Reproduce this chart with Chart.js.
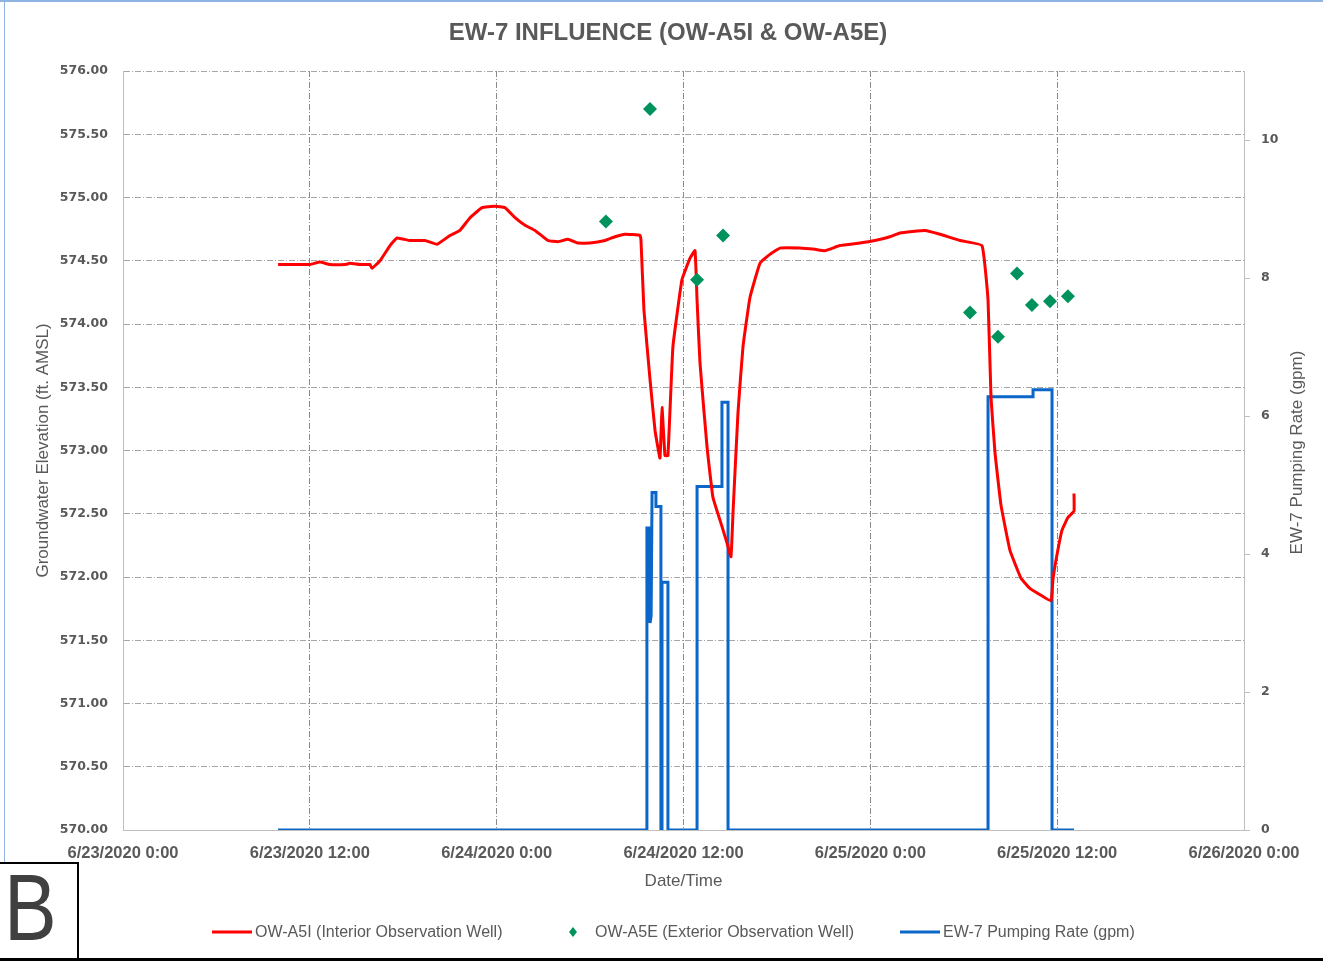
<!DOCTYPE html>
<html>
<head>
<meta charset="utf-8">
<title>EW-7 Influence (OW-A5I &amp; OW-A5E)</title>
<script src="https://cdn.jsdelivr.net/npm/chart.js@4/dist/chart.umd.min.js"></script>
<style>
  html, body { margin: 0; padding: 0; background: #ffffff; }
  #wrap { position: relative; width: 1323px; height: 961px; overflow: hidden; }
  #chart { position: absolute; left: 0; top: 0; }
  .edge { position: absolute; }
  #topEdge { left: 0; top: 0; width: 1323px; height: 2px; background: #8fb4e3; }
  #leftEdge { left: 4px; top: 0; width: 1px; height: 862px; background: #8fb4e3; }
  #bottomEdge { left: 0; top: 958px; width: 1323px; height: 3px; background: #000000; }
  #panel { position: absolute; left: 0; top: 862px; width: 77px; height: 94px; border: 2px solid #000; border-left: none;
           overflow: hidden; }
  #panel span { position: absolute; left: 4px; top: -6px; font-family: "Liberation Sans", sans-serif; font-size: 94px;
                line-height: 100px; color: #404040; transform: scaleX(0.84); transform-origin: left top; }
</style>
</head>
<body>
<div id="wrap">
  <canvas id="chart" width="1323" height="961"></canvas>
  <div class="edge" id="topEdge"></div>
  <div class="edge" id="leftEdge"></div>
  <div class="edge" id="bottomEdge"></div>
  <div id="panel"><span>B</span></div>
</div>
<script>
// Time axis: hours elapsed since 6/23/2020 0:00
const timeTickLabels = ['6/23/2020 0:00', '6/23/2020 12:00', '6/24/2020 0:00', '6/24/2020 12:00',
                        '6/25/2020 0:00', '6/25/2020 12:00', '6/26/2020 0:00'];

// OW-A5I (Interior Observation Well) – groundwater elevation, ft AMSL
const interiorHours = [
  9.96, 10.73, 12.01, 12.65, 13.29, 14.26, 14.58, 15.22, 15.86, 15.99, 16.51, 17.15, 17.60, 18.43,
  19.40, 20.17, 21.00, 21.64, 22.29, 23.06, 23.89, 24.53, 25.18, 25.82, 26.46, 27.30, 27.94, 28.58,
  29.22, 29.99, 30.96, 31.60, 32.24, 33.21, 33.27, 33.46, 33.85, 34.17, 34.49, 34.62, 34.81, 35.00,
  35.32, 35.90, 36.42, 36.74, 36.87, 37.06, 37.51, 37.89, 38.47, 38.79, 39.05, 39.18, 39.50, 39.82,
  40.27, 40.91, 41.55, 42.20, 43.48, 44.44, 45.09, 46.05, 47.33, 48.30, 49.26, 49.90, 51.51, 52.47,
  53.76, 55.17, 55.56, 55.75, 56.01, 56.39, 56.97, 57.68, 58.25, 58.90, 59.60, 59.73, 59.92, 60.31,
  60.69, 61.08, 61.08
];
const interiorElev = [
  574.47, 574.47, 574.47, 574.49, 574.47, 574.47, 574.48, 574.47, 574.47, 574.44, 574.50, 574.62, 574.68, 574.66,
  574.66, 574.63, 574.70, 574.74, 574.84, 574.92, 574.93, 574.92, 574.84, 574.78, 574.74, 574.66, 574.65, 574.67,
  574.64, 574.64, 574.66, 574.69, 574.71, 574.70, 574.66, 574.11, 573.56, 573.16, 572.94, 573.34, 572.96, 572.96,
  573.82, 574.35, 574.52, 574.58, 574.19, 573.69, 573.03, 572.63, 572.40, 572.27, 572.16, 572.51, 573.30, 573.82,
  574.21, 574.48, 574.55, 574.60, 574.60, 574.59, 574.58, 574.62, 574.64, 574.66, 574.69, 574.72, 574.74, 574.71,
  574.66, 574.62, 574.19, 573.42, 572.98, 572.57, 572.21, 571.99, 571.91, 571.86, 571.81, 571.98, 572.13, 572.37,
  572.47, 572.52, 572.66
];

// OW-A5E (Exterior Observation Well) – manual readings, ft AMSL
const exteriorHours = [31.02, 33.85, 36.87, 38.54, 54.40, 56.20, 57.42, 58.38, 59.54, 60.69];
const exteriorElev  = [574.81, 575.70, 574.35, 574.70, 574.09, 573.90, 574.40, 574.15, 574.18, 574.22];

// EW-7 pumping rate, gpm (stepped record)
const pumpHours = [
  9.96, 33.65, 33.65, 33.69, 33.73, 33.77, 33.81, 33.85, 33.92, 33.98, 34.23, 34.23, 34.55, 34.55,
  34.62, 34.62, 35.00, 35.00, 36.87, 36.87, 38.47, 38.47, 38.86, 38.86, 55.56, 55.56, 58.45, 58.45,
  59.67, 59.67, 61.08
];
const pumpRate = [
  0, 0, 4.40, 3.00, 4.40, 3.00, 4.35, 3.00, 3.10, 4.89, 4.89, 4.69, 4.69, 0,
  0, 3.59, 3.59, 0, 0, 4.98, 4.98, 6.20, 6.20, 0, 0, 6.28, 6.28, 6.38,
  6.38, 0, 0
];

const toPoints = (xs, ys) => xs.map((x, i) => ({ x: x, y: ys[i] }));

const TEXT_GREY = '#595959';
const RED = '#ff0000';
const GREEN = '#00925c';
const BLUE = '#0a66c8';
const SANS = '"Liberation Sans", Arial, sans-serif';

const legendItems = [
  { text: 'OW-A5I (Interior Observation Well)', kind: 'line', color: RED, x: 212 },
  { text: 'OW-A5E (Exterior Observation Well)', kind: 'diamond', color: GREEN, x: 565 },
  { text: 'EW-7 Pumping Rate (gpm)', kind: 'line', color: BLUE, x: 900 }
];

const decorations = {
  id: 'decorations',
  afterDraw(chart) {
    const ctx = chart.ctx;
    const area = chart.chartArea;
    ctx.save();
    // chart heading
    ctx.fillStyle = TEXT_GREY;
    ctx.font = 'bold 24px ' + SANS;
    ctx.textAlign = 'center';
    ctx.textBaseline = 'middle';
    ctx.fillText('EW-7 INFLUENCE (OW-A5I & OW-A5E)', 668, 33);

    // secondary axis title, reading bottom to top
    ctx.save();
    ctx.translate(1297, (area.top + area.bottom) / 2 + 2);
    ctx.rotate(-Math.PI / 2);
    ctx.font = '17px ' + SANS;
    ctx.fillText('EW-7 Pumping Rate (gpm)', 0, 0);
    ctx.restore();

    // legend row
    ctx.font = '16px ' + SANS;
    ctx.textAlign = 'left';
    const ly = 932;
    legendItems.forEach(item => {
      let tx;
      if (item.kind === 'line') {
        ctx.strokeStyle = item.color;
        ctx.lineWidth = 3;
        ctx.beginPath();
        ctx.moveTo(item.x, ly);
        ctx.lineTo(item.x + 40, ly);
        ctx.stroke();
        tx = item.x + 43;
      } else {
        const cx = item.x + 8, r = 5;
        ctx.fillStyle = item.color;
        ctx.beginPath();
        ctx.moveTo(cx, ly - r);
        ctx.lineTo(cx + r * 0.8, ly);
        ctx.lineTo(cx, ly + r);
        ctx.lineTo(cx - r * 0.8, ly);
        ctx.closePath();
        ctx.fill();
        tx = item.x + 30;
      }
      ctx.fillStyle = TEXT_GREY;
      ctx.fillText(item.text, tx, ly + 1);
    });
    ctx.restore();
  }
};

const gridDash = [6, 2, 1, 2];

new Chart(document.getElementById('chart'), {
  type: 'line',
  data: {
    datasets: [
      {
        label: 'OW-A5E (Exterior Observation Well)',
        data: toPoints(exteriorHours, exteriorElev),
        yAxisID: 'y',
        showLine: false,
        pointStyle: 'rectRot',
        pointRadius: 7,
        pointBackgroundColor: GREEN,
        pointBorderColor: GREEN,
        pointBorderWidth: 0,
        backgroundColor: GREEN,
        borderColor: GREEN
      },
      {
        label: 'OW-A5I (Interior Observation Well)',
        data: toPoints(interiorHours, interiorElev),
        yAxisID: 'y',
        borderColor: RED,
        backgroundColor: RED,
        borderWidth: 3,
        pointRadius: 0,
        tension: 0.1,
        fill: false
      },
      {
        label: 'EW-7 Pumping Rate (gpm)',
        data: toPoints(pumpHours, pumpRate),
        yAxisID: 'y1',
        borderColor: BLUE,
        backgroundColor: BLUE,
        borderWidth: 3,
        pointRadius: 0,
        tension: 0,
        fill: false
      }
    ]
  },
  options: {
    responsive: false,
    animation: false,
    layout: { padding: { top: 71, left: 0, right: 0, bottom: 61 } },
    plugins: {
      legend: { display: false },
      title: { display: false },
      tooltip: { enabled: false }
    },
    scales: {
      x: {
        type: 'linear',
        position: 'bottom',
        min: 0,
        max: 72,
        afterFit(scale) { scale.height = 70; },
        ticks: {
          stepSize: 12,
          autoSkip: false,
          maxRotation: 0,
          padding: 14,
          color: TEXT_GREY,
          font: { family: SANS, size: 16.5, weight: 'bold' },
          callback: (value) => timeTickLabels[Math.round(value / 12)]
        },
        grid: { color: '#8a8a8a', lineWidth: 1, drawTicks: false },
        border: { display: true, color: '#bfbfbf', width: 1, dash: gridDash },
        title: {
          display: true,
          text: 'Date/Time',
          color: TEXT_GREY,
          font: { family: SANS, size: 17 },
          padding: { top: 0, bottom: 8 }
        }
      },
      y: {
        type: 'linear',
        position: 'left',
        min: 570,
        max: 576,
        afterFit(scale) { scale.width = 123; },
        ticks: {
          stepSize: 0.5,
          padding: 15,
          color: TEXT_GREY,
          font: { family: '"DejaVu Sans", sans-serif', size: 12.5, weight: 'bold' },
          callback: (value) => Number(value).toFixed(2)
        },
        grid: { color: '#a6a6a6', lineWidth: 1, drawTicks: false },
        border: { display: true, color: '#bfbfbf', width: 1, dash: gridDash },
        title: {
          display: true,
          text: 'Groundwater Elevation (ft. AMSL)',
          color: TEXT_GREY,
          font: { family: SANS, size: 17 },
          padding: { top: 33, bottom: 0 }
        }
      },
      y1: {
        type: 'linear',
        position: 'right',
        min: 0,
        max: 11,
        afterFit(scale) { scale.width = 79; },
        ticks: {
          stepSize: 2,
          includeBounds: false,
          padding: 11,
          color: TEXT_GREY,
          font: { family: '"DejaVu Sans", sans-serif', size: 12.5, weight: 'bold' }
        },
        grid: { drawOnChartArea: false, drawTicks: true, tickLength: 6, color: '#bfbfbf' },
        border: { display: true, color: '#bfbfbf', width: 1 },
        title: { display: false }
      }
    }
  },
  plugins: [decorations]
});
</script>
</body>
</html>
